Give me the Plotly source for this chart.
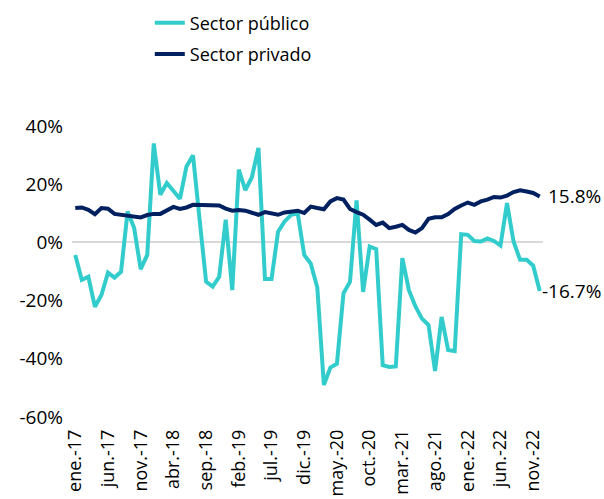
import plotly.graph_objects as go

month_abbr = ["ene", "feb", "mar", "abr", "may", "jun", "jul", "ago", "sep", "oct", "nov", "dic"]
years = ["17", "18", "19", "20", "21", "22"]
categories = [f"{m}.-{y}" for y in years for m in month_abbr]  # ene.-17 ... dic.-22
tick_labels = categories[::5]  # ene.-17, jun.-17, ..., nov.-22

sector_publico = [
    -4.3, -12.9, -11.8, -22.1, -18.1, -10.4, -12.1, -10.1, 10.6, 4.9, -9.2, -4.3,
    34.0, 16.4, 20.4, 17.5, 15.0, 26.1, 29.9, 8.0, -13.5, -15.2, -11.8, 7.8,
    -16.4, 25.0, 18.0, 22.4, 32.5, -12.6, -12.6, 3.7, 7.2, 9.5, 10.0, -4.3,
    -7.3, -15.5, -49.0, -43.0, -41.7, -17.5, -13.5, 14.4, -17.0, -1.4, -2.3, -42.2,
    -42.8, -42.6, -5.4, -16.4, -22.0, -26.2, -28.4, -44.2, -25.6, -37.0, -37.4, 2.8,
    2.6, 0.5, 0.3, 1.4, 0.5, -1.1, 13.5, 0.3, -6.0, -6.0, -8.0, -16.7,
]
sector_privado = [
    11.8, 12.0, 11.2, 9.7, 11.8, 11.6, 9.8, 9.5, 9.3, 8.7, 8.6, 9.4,
    9.8, 9.8, 11.0, 12.2, 11.5, 12.0, 12.9, 12.9, 12.7, 12.7, 12.7, 11.6,
    10.9, 11.1, 10.9, 10.2, 9.5, 10.4, 9.8, 9.5, 10.3, 10.6, 10.9, 10.1,
    12.3, 11.8, 11.4, 14.1, 15.2, 14.7, 11.5, 10.4, 9.5, 7.8, 6.0, 6.8,
    4.9, 5.4, 6.0, 4.3, 3.4, 4.9, 8.1, 8.6, 8.6, 9.7, 11.5, 12.7,
    13.7, 12.9, 14.1, 14.7, 15.6, 15.4, 16.1, 17.3, 17.9, 17.5, 17.0, 15.8,
]
y_ticks = [-60, -40, -20, 0, 20, 40]
y_tick_text = [f"{v}%" for v in y_ticks]

TEAL = "#33CCCC"
NAVY = "#002060"
FONT = "Open Sans"

fig = go.Figure()
fig.add_trace(go.Scatter(x=categories, y=sector_publico, mode="lines", name="Sector público",
                         legendgroup="pub", line=dict(color=TEAL, width=4)))
fig.add_trace(go.Scatter(x=categories, y=sector_privado, mode="lines", name="Sector privado",
                         legendgroup="priv", line=dict(color=NAVY, width=4)))

fig.add_annotation(x=categories[-1], y=sector_privado[-1], text=f"{sector_privado[-1]:.1f}%",
                   showarrow=False, xanchor="left", xshift=6, font=dict(size=19, color="#000000", family=FONT))
fig.add_annotation(x=categories[-1], y=sector_publico[-1], text=f"{sector_publico[-1]:.1f}%",
                   showarrow=False, xanchor="left", xshift=0, font=dict(size=19, color="#000000", family=FONT))

fig.update_layout(
    width=604, height=499,
    margin=dict(l=72, r=61, t=126, b=82, autoexpand=False),
    paper_bgcolor="white", plot_bgcolor="white",
    font=dict(family=FONT, size=18, color="#000000"),
    showlegend=True,
    legend=dict(xref="container", yref="container", x=0.248, y=0.991,
                xanchor="left", yanchor="top", orientation="v",
                font=dict(size=18, family=FONT), bgcolor="rgba(0,0,0,0)", tracegroupgap=5),
    xaxis=dict(type="category", range=[-0.5, len(categories) - 0.5], tickmode="array",
               tickvals=tick_labels, ticktext=tick_labels, tickangle=-90, automargin=False,
               showgrid=False, showline=False, zeroline=False, ticks="",
               ticklabelstandoff=8, tickfont=dict(size=18, family=FONT)),
    yaxis=dict(range=[-60, 40], tickmode="array", tickvals=y_ticks, ticktext=y_tick_text,
               automargin=False, showgrid=False, zeroline=True, zerolinecolor="#D9D9D9",
               zerolinewidth=2, showline=False, ticks="", ticklabelstandoff=8,
               tickfont=dict(size=19, family=FONT)),
)

fig.write_html("out.html", config={"displayModeBar": False},
               post_script="document.body.style.margin='0';document.body.style.overflow='hidden';")
